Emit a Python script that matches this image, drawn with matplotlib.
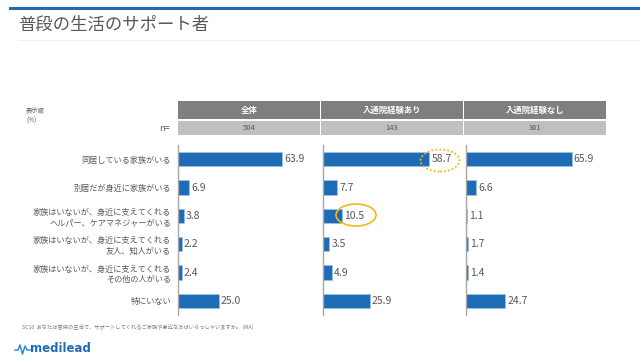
import matplotlib
matplotlib.use("Agg")
import matplotlib.pyplot as plt
from matplotlib.patches import Rectangle, Ellipse
from matplotlib.lines import Line2D

plt.rcParams['font.family'] = ['Noto Sans CJK JP', 'DejaVu Sans']

categories = [
    "同居している家族がいる",
    "別居だが身近に家族がいる",
    "家族はいないが、身近に支えてくれる\nヘルパー、ケアマネジャーがいる",
    "家族はいないが、身近に支えてくれる\n友人、知人がいる",
    "家族はいないが、身近に支えてくれる\nその他の人がいる",
    "特にいない",
]
groups = ["全体", "入通院経験あり", "入通院経験なし"]
n_values = ["504", "143", "361"]
values_all = [63.9, 6.9, 3.8, 2.2, 2.4, 25.0]
values_yes = [58.7, 7.7, 10.5, 3.5, 4.9, 25.9]
values_no = [65.9, 6.6, 1.1, 1.7, 1.4, 24.7]
series = [values_all, values_yes, values_no]
xmax = [87, 78.5, 88]

W, H = 640, 360
BLUE = "#1F6CB6"
GRAY_TXT = "#595959"
ORANGE = "#F5B914"

fig = plt.figure(figsize=(6.4, 3.6), dpi=100)


def fx(px):
    return px / W


def fy(py):
    return 1 - py / H


# top bar and title
fig.add_artist(Line2D([fx(10), fx(640)], [fy(8), fy(8)], color="#1F6CB6", lw=2.2))
fig.text(fx(18), fy(25), "普段の生活のサポート者", fontsize=12.5, color="#595959", va="center")
fig.add_artist(Line2D([fx(18), fx(640)], [fy(39.5), fy(39.5)], color="#F0F0F0", lw=0.8))

# legend notes
fig.text(fx(26), fy(110), "表示順", fontsize=4.5, color=GRAY_TXT, va="center")
fig.text(fx(26), fy(121), "(%)", fontsize=4.5, color=GRAY_TXT, va="center")
fig.text(fx(170), fy(128), "n=", fontsize=6.5, color=GRAY_TXT, va="center", ha="right")

# header table
col_left = [178, 321, 464]
col_w = 141.5
for i, (g, n) in enumerate(zip(groups, n_values)):
    x0 = col_left[i]
    fig.add_artist(Rectangle((fx(x0), fy(119)), fx(col_w), 18 / H,
                             transform=fig.transFigure, color="#7F7F7F", lw=0))
    fig.add_artist(Rectangle((fx(x0), fy(135)), fx(col_w), 14 / H,
                             transform=fig.transFigure, color="#BFBFBF", lw=0))
    fig.text(fx(x0 + col_w / 2), fy(110), g, fontsize=6, color="white",
             ha="center", va="center", fontweight="bold")
    fig.text(fx(x0 + col_w / 2), fy(128), n, fontsize=5.5, color=GRAY_TXT,
             ha="center", va="center")

# bar panels
axes = []
for i, vals in enumerate(series):
    x0 = [178, 323, 465.5][i]
    ax = fig.add_axes([fx(x0), fy(315), fx(142), 170 / H])
    y = list(range(len(vals)))
    ax.barh(y, vals, height=0.5, color=BLUE, edgecolor="#9DC3E6", linewidth=0.5)
    ax.set_ylim(len(vals) - 0.5, -0.5)
    ax.set_xlim(0, xmax[i])
    for yy, v in zip(y, vals):
        ax.text(v + 1.2, yy, f"{v:.1f}", fontsize=7.5, color=GRAY_TXT,
                va="center", ha="left")
    for s in ["top", "right", "bottom"]:
        ax.spines[s].set_visible(False)
    ax.spines["left"].set_color("#A6A6A6")
    ax.spines["left"].set_linewidth(1)
    ax.set_xticks([])
    ax.set_yticks([])
    ax.patch.set_alpha(0)
    axes.append(ax)

axes[0].set_yticks(range(len(categories)))
axes[0].set_yticklabels(categories, fontsize=5.9, color=GRAY_TXT, linespacing=1.25)
axes[0].tick_params(axis="y", length=0, pad=5)

# highlight ellipses
fig.add_artist(Ellipse((fx(440), fy(160.5)), fx(39), 22 / H, transform=fig.transFigure,
                       fill=False, edgecolor=ORANGE, lw=1.3, linestyle=(0, (1, 1.2)),
                       zorder=10))
fig.add_artist(Ellipse((fx(356), fy(215)), fx(40), 22 / H, transform=fig.transFigure,
                       fill=False, edgecolor=ORANGE, lw=1.2, zorder=10))

# footnote
fig.text(fx(22), fy(327), "SC10  あなたは普段の生活で、サポートしてくれるご家族や身近な方はいらっしゃいますか。 (MA)",
         fontsize=3.8, color="#7F7F7F", va="center")

# logo
fig.add_artist(Line2D([fx(15), fx(18), fx(20), fx(22.5), fx(25), fx(27), fx(30)],
                      [fy(350), fy(350), fy(345), fy(354), fy(346), fy(350), fy(350)],
                      color="#2E8FD6", lw=1.1))
fig.text(fx(30), fy(349), "medilead", fontsize=8.5, color="#1F6CB6", va="center",
         fontweight="bold", family=["DejaVu Sans"])

fig.savefig("out.png", dpi=100)
